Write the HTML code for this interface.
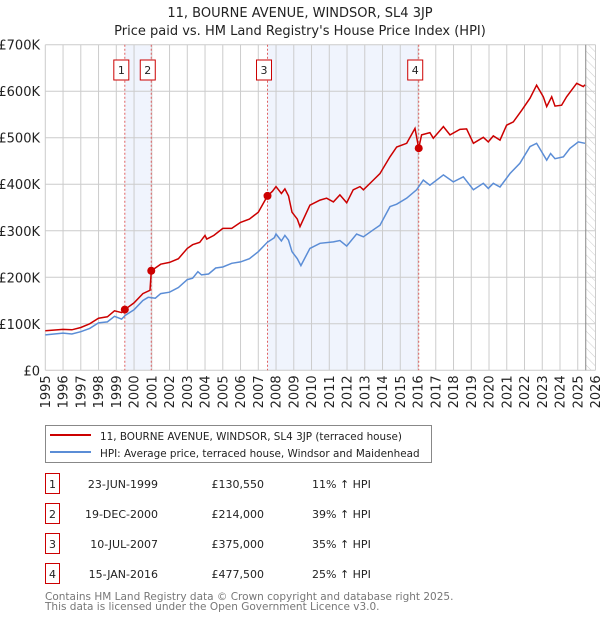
<!DOCTYPE html>
<html><head><meta charset="utf-8"><style>
body{margin:0;background:#fff;font-family:"Liberation Sans","DejaVu Sans",sans-serif;}
svg text{font-family:"DejaVu Sans","Liberation Sans",sans-serif;}
</style></head><body>
<svg id="chart" width="600" height="620" viewBox="0 0 600 620" xmlns="http://www.w3.org/2000/svg">
<defs><pattern id="hatch" width="6" height="6" patternUnits="userSpaceOnUse" patternTransform="rotate(-45)"><line x1="0" y1="0" x2="0" y2="6" stroke="#ccc" stroke-width="1"/></pattern></defs>
<text x="300" y="17" text-anchor="middle" font-size="13" fill="#222">11, BOURNE AVENUE, WINDSOR, SL4 3JP</text>
<text x="300" y="35" text-anchor="middle" font-size="13" fill="#222">Price paid vs. HM Land Registry's House Price Index (HPI)</text>
<g id="shade"></g><g id="grid"></g><g id="axes"></g><g id="lines"></g><g id="marks"></g>
<rect x="45.5" y="425.5" width="386" height="37" fill="#fff" stroke="#888"/>
<line x1="50" y1="435" x2="91" y2="435" stroke="#cc0000" stroke-width="2"/>
<text x="100" y="440" font-size="10.4" fill="#222">11, BOURNE AVENUE, WINDSOR, SL4 3JP (terraced house)</text>
<line x1="50" y1="452" x2="91" y2="452" stroke="#5b8dd6" stroke-width="2"/>
<text x="100" y="457" font-size="10.4" fill="#222">HPI: Average price, terraced house, Windsor and Maidenhead</text>
<g id="table" font-size="11" fill="#222"></g>
<text x="45" y="600" font-size="10.5" fill="#777">Contains HM Land Registry data © Crown copyright and database right 2025.</text>
<text x="45" y="610" font-size="10.5" fill="#777">This data is licensed under the Open Government Licence v3.0.</text>
</svg>
<script>
const redYears=[1995,1996,1996.5,1997,1997.5,1998,1998.5,1998.9,1999.3,1999.48,2000,2000.5,2000.9,2000.97,2001.5,2002,2002.5,2003,2003.3,2003.7,2004,2004.1,2004.5,2005,2005.5,2006,2006.5,2007,2007.52,2007.8,2008.0,2008.3,2008.5,2008.7,2008.9,2009.2,2009.35,2009.91,2010.48,2010.85,2011.23,2011.6,2011.98,2012.35,2012.73,2012.92,2013.48,2013.86,2014.42,2014.8,2015.36,2015.83,2016.04,2016.2,2016.67,2016.86,2017.43,2017.8,2018.36,2018.74,2019.12,2019.68,2019.96,2020.24,2020.62,2020.99,2021.37,2021.84,2022.31,2022.68,2023.06,2023.25,2023.53,2023.72,2024.09,2024.37,2024.94,2025.31,2025.41];
const redValues=[85,88,87,92,100,112,115,128,124,130.55,145,165,172,214,228,232,240,262,270,275,290,282,290,305,305,318,325,340,375,385,395,380,390,375,340,325,309,355,366,370,362,377,360,388,395,388,409,423,459,480,488,520,477.5,506,511,499,524,506,518,519,488,501,491,504,495,527,534,559,585,613,588,567,588,568,570,588,617,610,614];
const hpiYears=[1995,1996,1996.5,1997,1997.5,1998,1998.5,1998.9,1999.3,1999.5,2000,2000.5,2000.8,2001.2,2001.5,2002,2002.5,2003,2003.3,2003.6,2003.8,2004.2,2004.6,2005,2005.5,2006,2006.5,2007,2007.5,2007.9,2008.0,2008.3,2008.5,2008.7,2008.9,2009.2,2009.4,2009.91,2010.48,2011.23,2011.6,2011.98,2012.54,2012.92,2013.48,2013.86,2014.42,2014.8,2015.36,2015.92,2016.3,2016.67,2017.43,2017.99,2018.55,2019.12,2019.68,2019.96,2020.24,2020.62,2021.18,2021.74,2022.31,2022.68,2023.25,2023.47,2023.72,2024.19,2024.56,2025.03,2025.41];
const hpiValues=[76,80,78,83,90,102,104,116,110,118,130,150,157,155,165,168,178,195,198,212,205,207,220,222,230,233,240,255,275,285,293,278,290,280,255,240,225,262,273,276,279,267,293,287,302,312,352,357,370,388,409,398,420,405,416,388,402,391,402,394,423,445,481,488,452,466,455,459,477,491,488];
const saleLabels=["1","2","3","4"];
const saleYears=[1999.48,2000.97,2007.52,2016.04];
const salePrices=[130.55,214,375,477.5];
const saleDates=["23-JUN-1999","19-DEC-2000","10-JUL-2007","15-JAN-2016"];
const salePriceText=["£130,550","£214,000","£375,000","£477,500"];
const saleHpiText=["11% ↑ HPI","39% ↑ HPI","35% ↑ HPI","25% ↑ HPI"];
const yTicks=[0,100,200,300,400,500,600,700];
const yTickLabels=["£0","£100K","£200K","£300K","£400K","£500K","£600K","£700K"];
const xTicks=[1995,1996,1997,1998,1999,2000,2001,2002,2003,2004,2005,2006,2007,2008,2009,2010,2011,2012,2013,2014,2015,2016,2017,2018,2019,2020,2021,2022,2023,2024,2025,2026];
const dataEnd=2025.45;
const NS="http://www.w3.org/2000/svg";
const X0=45.3,X1=595.5,Y0=370.3,Y1=44.7;
const xs=y=>X0+(y-1995)/(2026-1995)*(X1-X0);
const ys=v=>Y0-v/700*(Y0-Y1);
function mk(tag,attrs,parent,text){const e=document.createElementNS(NS,tag);for(const k in attrs)e.setAttribute(k,attrs[k]);if(text!==undefined)e.textContent=text;parent.appendChild(e);return e;}
const shade=document.getElementById('shade'),grid=document.getElementById('grid'),axes=document.getElementById('axes'),lines=document.getElementById('lines'),marks=document.getElementById('marks'),table=document.getElementById('table');
for(let i=0;i<saleYears.length;i+=2){const r=mk('rect',{x:xs(saleYears[i]),y:Y1,width:xs(saleYears[i+1])-xs(saleYears[i]),height:Y0-Y1,fill:'#f0f4fd'},shade);

}
const h=mk('rect',{x:xs(dataEnd),y:Y1,width:X1-xs(dataEnd),height:Y0-Y1,fill:'url(#hatch)'},shade);


yTicks.forEach((v,i)=>{mk('line',{x1:X0,x2:X1,y1:ys(v),y2:ys(v),stroke:'#ccc','stroke-width':1},grid);
const t=mk('text',{x:40,y:ys(v)+5,'text-anchor':'end','font-size':13,fill:'#222'},axes,yTickLabels[i]);

});
xTicks.forEach(y=>{mk('line',{x1:xs(y),x2:xs(y),y1:Y1,y2:Y0,stroke:'#ccc','stroke-width':1},grid);
const t=mk('text',{x:0,y:0,transform:`translate(${xs(y)+4.5},${Y0+5}) rotate(-90)`,'text-anchor':'end','font-size':13,fill:'#222'},axes,String(y));

});
mk('line',{x1:xs(dataEnd),x2:xs(dataEnd),y1:Y1,y2:Y0,stroke:'#888','stroke-width':1},grid);
saleYears.forEach((y,i)=>{mk('line',{x1:xs(y),x2:xs(y),y1:Y1,y2:Y0,stroke:'#e06060','stroke-width':1,'stroke-dasharray':'2,2'},grid);
const b=mk('rect',{x:xs(y)-11,y:60,width:15,height:20,fill:'#fff',stroke:'#cc0000'},marks);


mk('text',{x:xs(y)-3.5,y:74,'text-anchor':'middle','font-size':11,fill:'#222'},marks,saleLabels[i]);});
const pts=(xa,va)=>xa.map((y,i)=>xs(y).toFixed(1)+','+ys(va[i]).toFixed(1)).join(' ');
const hl=mk('polyline',{points:pts(hpiYears,hpiValues),fill:'none',stroke:'#5b8dd6','stroke-width':1.5},lines);


const rl=mk('polyline',{points:pts(redYears,redValues),fill:'none',stroke:'#cc0000','stroke-width':1.5},lines);


saleYears.forEach((y,i)=>{const c=mk('circle',{cx:xs(y),cy:ys(salePrices[i]),r:4,fill:'#cc0000'},marks);

});
saleYears.forEach((y,i)=>{const ry=473+i*30;
const b=mk('rect',{x:45.5,y:ry+0.5,width:14,height:20,fill:'#fff',stroke:'#cc0000'},table);


mk('text',{x:52.5,y:ry+15,'text-anchor':'middle'},table,saleLabels[i]);
mk('text',{x:158,y:ry+15,'text-anchor':'end'},table,saleDates[i]);
mk('text',{x:264,y:ry+15,'text-anchor':'end'},table,salePriceText[i]);
mk('text',{x:312,y:ry+15},table,saleHpiText[i]);});
</script>
</body></html>
